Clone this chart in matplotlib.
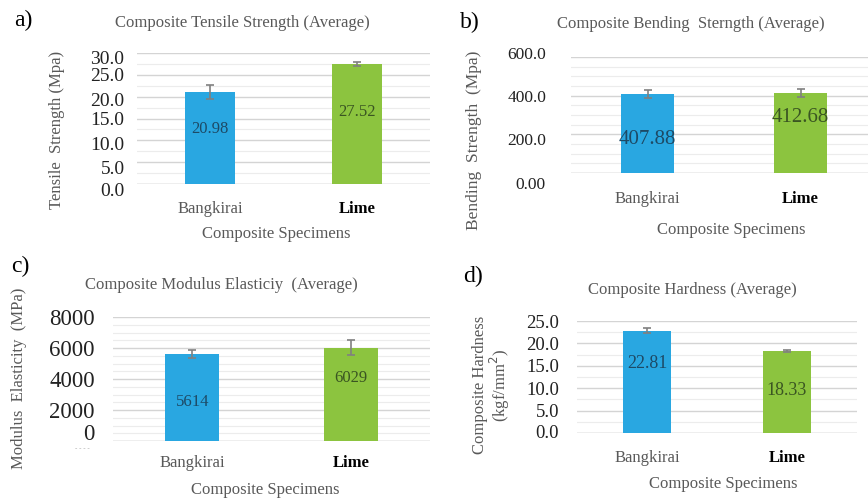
import matplotlib.pyplot as plt
import matplotlib.transforms as mtransforms
import numpy as np
from matplotlib.ticker import MultipleLocator

plt.rcParams['font.family'] = ['Liberation Serif', 'DejaVu Serif']

# Data
specimens = ['Bangkirai', 'Lime']

tensile = [20.98, 27.52]
tensile_err = [1.6, 0.4]

bending = [407.88, 412.68]
bending_err = [22, 20]

modulus = [5614, 6029]
modulus_err = [270, 480]

hardness = [22.81, 18.33]
hardness_err = [0.6, 0.15]

W, H = 868, 500
bar_colors = ['#29a7e1', '#8cc43f']
label_colors = ['#1d4a66', '#3a5522']
gray = '#595959'

fig = plt.figure(figsize=(W / 100, H / 100), dpi=100)


def frac(x, y):
    return x / W, 1 - y / H


def make_panel(rect_px, values, errs, ymax, major, minor, ticklabels, tick_fs,
               tick_pad, val_fs, val_frac, xt_pad, tick_shift):
    x0, y0, x1, y1 = rect_px
    ax = fig.add_axes([x0 / W, 1 - y1 / H, (x1 - x0) / W, (y1 - y0) / H])
    x = np.arange(len(values))
    ax.bar(x, values, width=0.34, color=bar_colors, zorder=3)
    ax.errorbar(x, values, yerr=errs, fmt='none', ecolor='#808080',
                elinewidth=1.2, capsize=3, capthick=1.2, zorder=4)
    for i, v in enumerate(values):
        txt = f'{v:g}' if isinstance(v, int) else f'{v:.2f}'
        ax.text(x[i], v * val_frac[i], txt, ha='center', va='center',
                fontsize=val_fs, color=label_colors[i], zorder=5)
    ax.set_xlim(-0.5, len(values) - 0.5)
    ax.set_ylim(0, ymax)
    ax.yaxis.set_major_locator(MultipleLocator(major))
    ax.yaxis.set_minor_locator(MultipleLocator(minor))
    ax.set_yticks(np.arange(0, ymax + major / 2, major))
    ax.set_yticklabels(ticklabels, fontsize=tick_fs, color='#222222')
    ax.grid(axis='y', which='major', color='#d4d4d4', linewidth=1.0, zorder=0)
    ax.grid(axis='y', which='minor', color='#ececec', linewidth=0.8, zorder=0)
    ax.tick_params(axis='y', which='both', length=0, pad=tick_pad)
    # the reference's tick labels sit a little off their gridlines
    for tick, dy in zip(ax.yaxis.get_major_ticks(), tick_shift):
        lab = tick.label1
        lab.set_transform(lab.get_transform() + mtransforms.ScaledTranslation(
            0, -dy / 100, fig.dpi_scale_trans))
    ax.set_xticks(x)
    ax.set_xticklabels(specimens, fontsize=12)
    xt = ax.get_xticklabels()
    xt[0].set_color(gray)
    xt[1].set_color('black')
    xt[1].set_fontweight('bold')
    ax.tick_params(axis='x', length=0, pad=xt_pad)
    for s in ax.spines.values():
        s.set_visible(False)
    ax.axhline(0, color='#d0d0d0', linewidth=1.0, zorder=2)
    return ax


# a) tensile
make_panel((137, 53, 430, 184), tensile, tensile_err, 30, 5, 2.5,
           ['0.0', '5.0', '10.0', '15.0', '20.0', '25.0', '30.0'], 14, 9,
           12, [0.6, 0.6], 12, [6, 5, 3, 0, 3, 0, 5])
# b) bending
make_panel((571, 57, 877, 173), bending, bending_err, 600, 200, 50,
           ['0.00', '200.0', '400.0', '600.0'], 12.5, 18,
           15, [0.42, 0.69], 13, [10, 5, 0, -4])
# c) modulus
make_panel((113, 317, 430, 441), modulus, modulus_err, 8000, 2000, 500,
           ['0', '2000', '4000', '6000', '8000'], 16.5, 13,
           12, [0.45, 0.67], 10, [-9, 0, 0, 0, 0])
# d) hardness
make_panel((577, 321, 857, 433), hardness, hardness_err, 25, 5, 2.5,
           ['0.0', '5.0', '10.0', '15.0', '20.0', '25.0'], 13.5, 13,
           13, [0.68, 0.52], 12, [-2, 0, 0, 0, 0, 0])

# panel letters
for lab, (px_, py_) in zip(['a)', 'b)', 'c)', 'd)'],
                           [(14, 20), (460, 22), (11, 266), (463, 276)]):
    fig.text(*frac(px_, py_), lab, fontsize=17, ha='left', va='center',
             color='black')

# titles
titles = ['Composite Tensile Strength (Average)',
          'Composite Bending  Sterngth (Average)',
          'Composite Modulus Elasticiy  (Average)',
          'Composite Hardness (Average)']
for t, (px_, py_) in zip(titles, [(242, 23), (691, 24), (221, 285), (692, 290)]):
    fig.text(*frac(px_, py_), t, fontsize=12, ha='center', va='center',
             color=gray)

# x axis titles
for px_, py_ in [(276, 234), (731, 230), (265, 490), (723, 484)]:
    fig.text(*frac(px_, py_), 'Composite Specimens', fontsize=12,
             ha='center', va='center', color=gray)

# y axis titles
fig.text(*frac(57, 130), 'Tensile  Strength (Mpa)', fontsize=12,
         rotation=90, ha='center', va='center', color=gray)
fig.text(*frac(474, 140), 'Bending  Strength  (Mpa)', fontsize=12.5,
         rotation=90, ha='center', va='center', color=gray)
fig.text(*frac(19, 378), 'Modulus  Elasticity  (MPa)', fontsize=12,
         rotation=90, ha='center', va='center', color=gray)
fig.text(*frac(492, 385), 'Composite Hardness\n(kgf/mm$^2$)', fontsize=12,
         rotation=90, ha='center', va='center', color=gray,
         linespacing=1.0)

# stray dashes under the "0" of panel c
fig.text(*frac(82, 449), '- - - -', fontsize=5, ha='center', va='center',
         color='#9a9a9a')

fig.savefig('out.png', dpi=100)
